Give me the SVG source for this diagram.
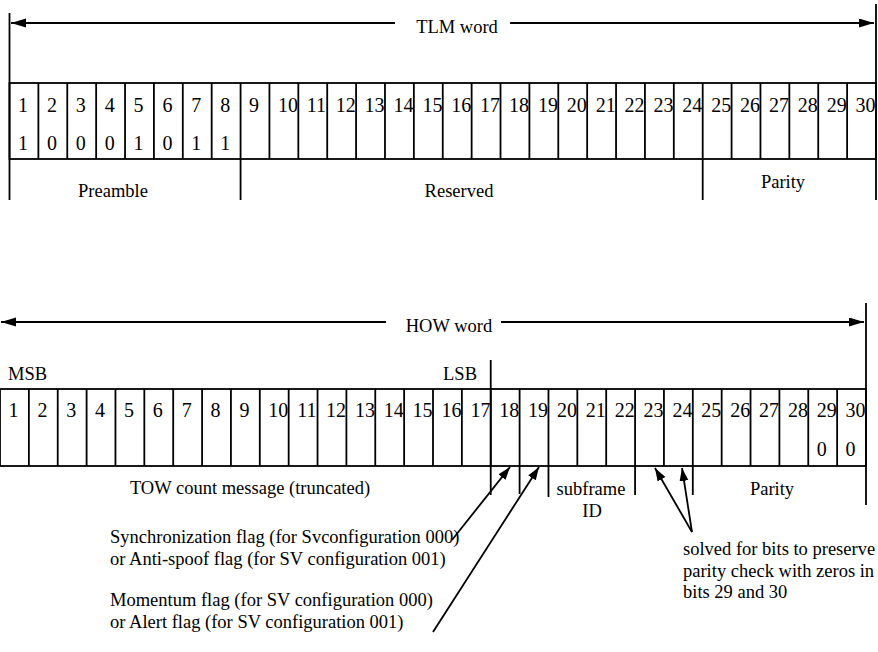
<svg xmlns="http://www.w3.org/2000/svg" width="878" height="652" viewBox="0 0 878 652">
<style>
  .ln { stroke:#000; stroke-width:1.8; fill:none; }
  .cell { stroke:#000; stroke-width:1.8; fill:#fff; }
  .t { font-family:"Liberation Serif","Times New Roman",serif; font-size:18.5px; fill:#000; }
  .d { font-family:"Liberation Serif","Times New Roman",serif; font-size:20px; fill:#000; }
  .c { text-anchor:middle; }
  .e { text-anchor:end; }
</style>
<defs>
  <marker id="ah" markerUnits="userSpaceOnUse" markerWidth="16" markerHeight="10" refX="15" refY="4.5" orient="auto-start-reverse">
    <path d="M0,0 L15,4.5 L0,9 z" fill="#000"/>
  </marker>
  <marker id="ap" markerUnits="userSpaceOnUse" markerWidth="14" markerHeight="10" refX="13" refY="4.5" orient="auto">
    <path d="M0,0 L13,4.5 L0,9 z" fill="#000"/>
  </marker>
</defs>
<rect width="878" height="652" fill="#fff"/>

<g id="tlm-word">
  <g id="tlm-cells">
    <rect class="cell" x="9.5" y="83" width="866.5" height="76"/>
    <path class="ln" d="M38.38,83V159M67.27,83V159M96.15,83V159M125.03,83V159M153.92,83V159M182.8,83V159M211.68,83V159M240.57,83V159M269.45,83V159M298.33,83V159M327.21,83V159M356.1,83V159M384.98,83V159M413.86,83V159M442.75,83V159M471.63,83V159M500.51,83V159M529.4,83V159M558.28,83V159M587.16,83V159M616.05,83V159M644.93,83V159M673.81,83V159M702.7,83V159M731.58,83V159M760.46,83V159M789.35,83V159M818.23,83V159M847.11,83V159"/>
    <g class="d">
      <text x="18" y="111.5">1</text><text x="46.9" y="111.5">2</text><text x="75.8" y="111.5">3</text><text x="104.7" y="111.5">4</text><text x="133.5" y="111.5">5</text><text x="162.4" y="111.5">6</text><text x="191.3" y="111.5">7</text><text x="220.2" y="111.5">8</text><text x="249.1" y="111.5">9</text><text x="277.9" y="111.5">10</text><text x="306.8" y="111.5">11</text><text x="335.7" y="111.5">12</text><text x="364.6" y="111.5">13</text><text x="393.5" y="111.5">14</text><text x="422.4" y="111.5">15</text><text x="451.2" y="111.5">16</text><text x="480.1" y="111.5">17</text><text x="509" y="111.5">18</text><text x="537.9" y="111.5">19</text><text x="566.8" y="111.5">20</text><text x="595.7" y="111.5">21</text><text x="624.5" y="111.5">22</text><text x="653.4" y="111.5">23</text><text x="682.3" y="111.5">24</text><text x="711.2" y="111.5">25</text><text x="740.1" y="111.5">26</text><text x="769" y="111.5">27</text><text x="797.8" y="111.5">28</text><text x="826.7" y="111.5">29</text><text x="855.6" y="111.5">30</text>
      <text x="18" y="150">1</text><text x="46.9" y="150">0</text><text x="75.8" y="150">0</text><text x="104.7" y="150">0</text><text x="133.5" y="150">1</text><text x="162.4" y="150">0</text><text x="191.3" y="150">1</text><text x="220.2" y="150">1</text>
    </g>
  </g>
  <g id="tlm-labels">
    <text class="t c" x="457" y="33">TLM word</text>
    <text class="t c" x="113" y="197">Preamble</text>
    <text class="t c" x="459" y="197">Reserved</text>
    <text class="t c" x="783" y="188">Parity</text>
  </g>
</g>

<g id="how-word">
  <g id="how-cells">
    <rect class="cell" x="0" y="389" width="866" height="77"/>
    <path class="ln" d="M28.87,389V466M57.73,389V466M86.6,389V466M115.47,389V466M144.33,389V466M173.2,389V466M202.07,389V466M230.93,389V466M259.8,389V466M288.67,389V466M317.53,389V466M346.4,389V466M375.27,389V466M404.13,389V466M433,389V466M461.87,389V466M490.73,389V466M519.6,389V466M548.47,389V466M577.33,389V466M606.2,389V466M635.07,389V466M663.93,389V466M692.8,389V466M721.67,389V466M750.53,389V466M779.4,389V466M808.27,389V466M837.13,389V466"/>
    <g class="d">
      <text x="8.5" y="417">1</text><text x="37.4" y="417">2</text><text x="66.2" y="417">3</text><text x="95.1" y="417">4</text><text x="124" y="417">5</text><text x="152.8" y="417">6</text><text x="181.7" y="417">7</text><text x="210.6" y="417">8</text><text x="239.4" y="417">9</text><text x="268.3" y="417">10</text><text x="297.2" y="417">11</text><text x="326" y="417">12</text><text x="354.9" y="417">13</text><text x="383.8" y="417">14</text><text x="412.6" y="417">15</text><text x="441.5" y="417">16</text><text x="470.4" y="417">17</text><text x="499.2" y="417">18</text><text x="528.1" y="417">19</text><text x="557" y="417">20</text><text x="585.8" y="417">21</text><text x="614.7" y="417">22</text><text x="643.6" y="417">23</text><text x="672.4" y="417">24</text><text x="701.3" y="417">25</text><text x="730.2" y="417">26</text><text x="759" y="417">27</text><text x="787.9" y="417">28</text><text x="816.8" y="417">29</text><text x="845.6" y="417">30</text>
      <text x="816.8" y="456">0</text><text x="845.6" y="456">0</text>
    </g>
  </g>
  <g id="how-labels">
    <text class="t c" x="449" y="332">HOW word</text>
    <text class="t" x="8" y="380">MSB</text>
    <text class="t e" x="477" y="380">LSB</text>
    <text class="t c" x="250" y="494">TOW count message (truncated)</text>
    <text class="t c" x="591" y="495">subframe</text>
    <text class="t c" x="592" y="517">ID</text>
    <text class="t c" x="772" y="495">Parity</text>
  </g>
</g>

<g id="annotations">
  <g id="flag-sync">
    <text class="t" x="110" y="543">Synchronization flag (for Svconfiguration 000)</text>
    <text class="t" x="110" y="565">or Anti-spoof flag (for SV configuration 001)</text>
  </g>
  <g id="flag-momentum">
    <text class="t" x="110" y="606">Momentum flag (for SV configuration 000)</text>
    <text class="t" x="110" y="628">or Alert flag (for SV configuration 001)</text>
  </g>
  <g id="solved-note">
    <text class="t" x="683" y="555">solved for bits to preserve</text>
    <text class="t" x="683" y="577">parity check with zeros in</text>
    <text class="t" x="683" y="598">bits 29 and 30</text>
  </g>
</g>

<g id="connectors">
  <path class="ln" d="M9.5,13V200M876,4V200M240.57,159V200M702.7,159V200"/>
  <path class="ln" d="M395,23H11" marker-end="url(#ah)"/>
  <path class="ln" d="M510,23H874" marker-end="url(#ah)"/>
  <path class="ln" d="M866,303V505M490.73,360V495M519.6,466V494M548.47,466V497M635.07,466V495M692.8,466V495"/>
  <path class="ln" d="M386,322H1" marker-end="url(#ah)"/>
  <path class="ln" d="M501,322H864" marker-end="url(#ah)"/>
  <path class="ln" d="M452,540L510,467" marker-end="url(#ap)"/>
  <path class="ln" d="M433,632L539,467" marker-end="url(#ap)"/>
  <path class="ln" d="M692,532L655,468" marker-end="url(#ap)"/>
  <path class="ln" d="M692,532L682,468" marker-end="url(#ap)"/>
</g>
</svg>
